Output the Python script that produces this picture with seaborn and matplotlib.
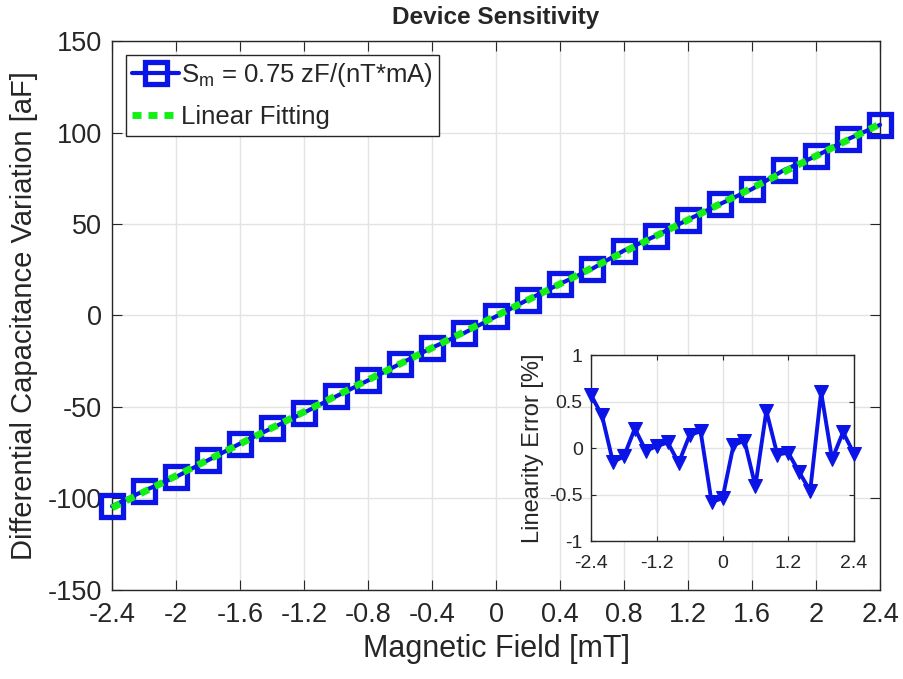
import numpy as np
import pandas as pd
import matplotlib
matplotlib.use("Agg")
import matplotlib.pyplot as plt
import seaborn as sns

# ---- data ----
field_mT = [-2.4, -2.2, -2.0, -1.8, -1.6, -1.4, -1.2, -1.0, -0.8, -0.6, -0.4, -0.2, 0.0,
            0.2, 0.4, 0.6, 0.8, 1.0, 1.2, 1.4, 1.6, 1.8, 2.0, 2.2, 2.4]
cap_aF = [-104.2, -95.8, -88.2, -79.1, -70.0, -61.5, -53.1, -44.2, -35.5, -26.4, -17.6, -9.6, -0.5,
          8.7, 17.3, 25.5, 35.5, 43.6, 52.4, 60.9, 69.1, 79.5, 87.1, 96.4, 104.2]
lin_err_pct = [0.57, 0.35, -0.15, -0.09, 0.21, -0.03, 0.02, 0.06, -0.16, 0.14, 0.18, -0.58, -0.54,
               0.03, 0.08, -0.41, 0.40, -0.07, -0.05, -0.26, -0.46, 0.60, -0.12, 0.17, -0.06]
main_xticks = [-2.4, -2, -1.6, -1.2, -0.8, -0.4, 0, 0.4, 0.8, 1.2, 1.6, 2, 2.4]
main_xticklabels = ["-2.4", "-2", "-1.6", "-1.2", "-0.8", "-0.4", "0", "0.4", "0.8", "1.2", "1.6", "2", "2.4"]
main_yticks = [-150, -100, -50, 0, 50, 100, 150]
inset_xticks = [-2.4, -1.2, 0, 1.2, 2.4]
inset_xticklabels = ["-2.4", "-1.2", "0", "1.2", "2.4"]
inset_yticks = [-1, -0.5, 0, 0.5, 1]
inset_yticklabels = ["-1", "-0.5", "0", "0.5", "1"]
label_meas = r"S$_{\mathrm{m}}$ = 0.75 zF/(nT*mA)"
label_fit = "Linear Fitting"

sns.set_theme(style="whitegrid")
plt.rcParams["font.family"] = ["Liberation Sans", "DejaVu Sans"]
plt.rcParams["mathtext.fontset"] = "custom"
plt.rcParams["mathtext.rm"] = "Liberation Sans"
plt.rcParams["axes.unicode_minus"] = False

df = pd.DataFrame({"B": field_mT, "C": cap_aF, "E": lin_err_pct})
slope, intercept = np.polyfit(df["B"], df["C"], 1)
df["fit"] = slope * df["B"] + intercept

fig = plt.figure(figsize=(9.04, 6.79), dpi=100)
ax = fig.add_axes([0.1239, 0.1311, 0.8496, 0.8085])

BLUE = "#0a14e6"
GREEN = "#14f014"
sns.lineplot(data=df, x="B", y="C", ax=ax, color=BLUE, lw=3.0, marker="s", markersize=16.5,
             markerfacecolor="none", markeredgecolor=BLUE, markeredgewidth=3.8,
             label=label_meas, clip_on=False, zorder=3)
sns.lineplot(data=df, x="B", y="fit", ax=ax, color=GREEN, lw=5, linestyle=(0, (1.3, 1.0)),
             label=label_fit, clip_on=False, zorder=4)

ax.set_xlim(-2.4, 2.4)
ax.set_ylim(-150, 150)
ax.set_xticks(main_xticks)
ax.set_xticklabels(main_xticklabels)
ax.set_yticks(main_yticks)
ax.set_yticklabels([str(v) for v in main_yticks])

def style_axes(a, fs, length):
    a.set_facecolor("white")
    a.grid(True, color="#e3e3e3", lw=1.0)
    a.set_axisbelow(True)
    for s in a.spines.values():
        s.set_visible(True)
        s.set_color("#262626")
        s.set_linewidth(1.0)
        s.set_zorder(2.5)
    a.tick_params(direction="in", length=length, width=0.8, colors="#262626", labelsize=fs,
                  top=True, right=True, bottom=True, left=True)
    for lab in a.get_xticklabels() + a.get_yticklabels():
        lab.set_color("#262626")

style_axes(ax, 19.5, 7)
ax.tick_params(axis="x", pad=9)
ax.tick_params(axis="y", pad=7)
ax.set_xlabel("Magnetic Field [mT]", fontsize=22, color="#262626", labelpad=4)
ax.set_ylabel("Differential Capacitance Variation [aF]", fontsize=21, color="#262626", labelpad=7)
ax.set_title("Device Sensitivity", fontsize=17.5, fontweight="bold", pad=12)

leg = ax.legend(loc="upper left", bbox_to_anchor=(0.0182, 0.975), fontsize=18.5, frameon=True,
                fancybox=False, edgecolor="#262626", framealpha=1, handlelength=1.8,
                borderpad=0.25, labelspacing=0.62, handletextpad=0.1, borderaxespad=0)
leg.get_frame().set_linewidth(1.0)
leg.set_zorder(10)

# ---- inset ----
axi = fig.add_axes([0.6538, 0.2032, 0.2909, 0.2739])
sns.lineplot(data=df, x="B", y="E", ax=axi, color=BLUE, lw=2.8, marker="v", markersize=10.5,
             markeredgecolor=BLUE, markerfacecolor=BLUE, clip_on=False, zorder=3)
axi.set_xlim(-2.4, 2.4)
axi.set_ylim(-1, 1)
axi.set_xticks(inset_xticks)
axi.set_xticklabels(inset_xticklabels)
axi.set_yticks(inset_yticks)
axi.set_yticklabels(inset_yticklabels)
style_axes(axi, 14, 3.5)
axi.tick_params(axis="x", pad=10)
axi.tick_params(axis="y", pad=6)
axi.set_xlabel("")
axi.set_ylabel("Linearity Error [%]", fontsize=17, color="#262626", labelpad=3.5)

fig.savefig("out.png", dpi=100, facecolor="white")
